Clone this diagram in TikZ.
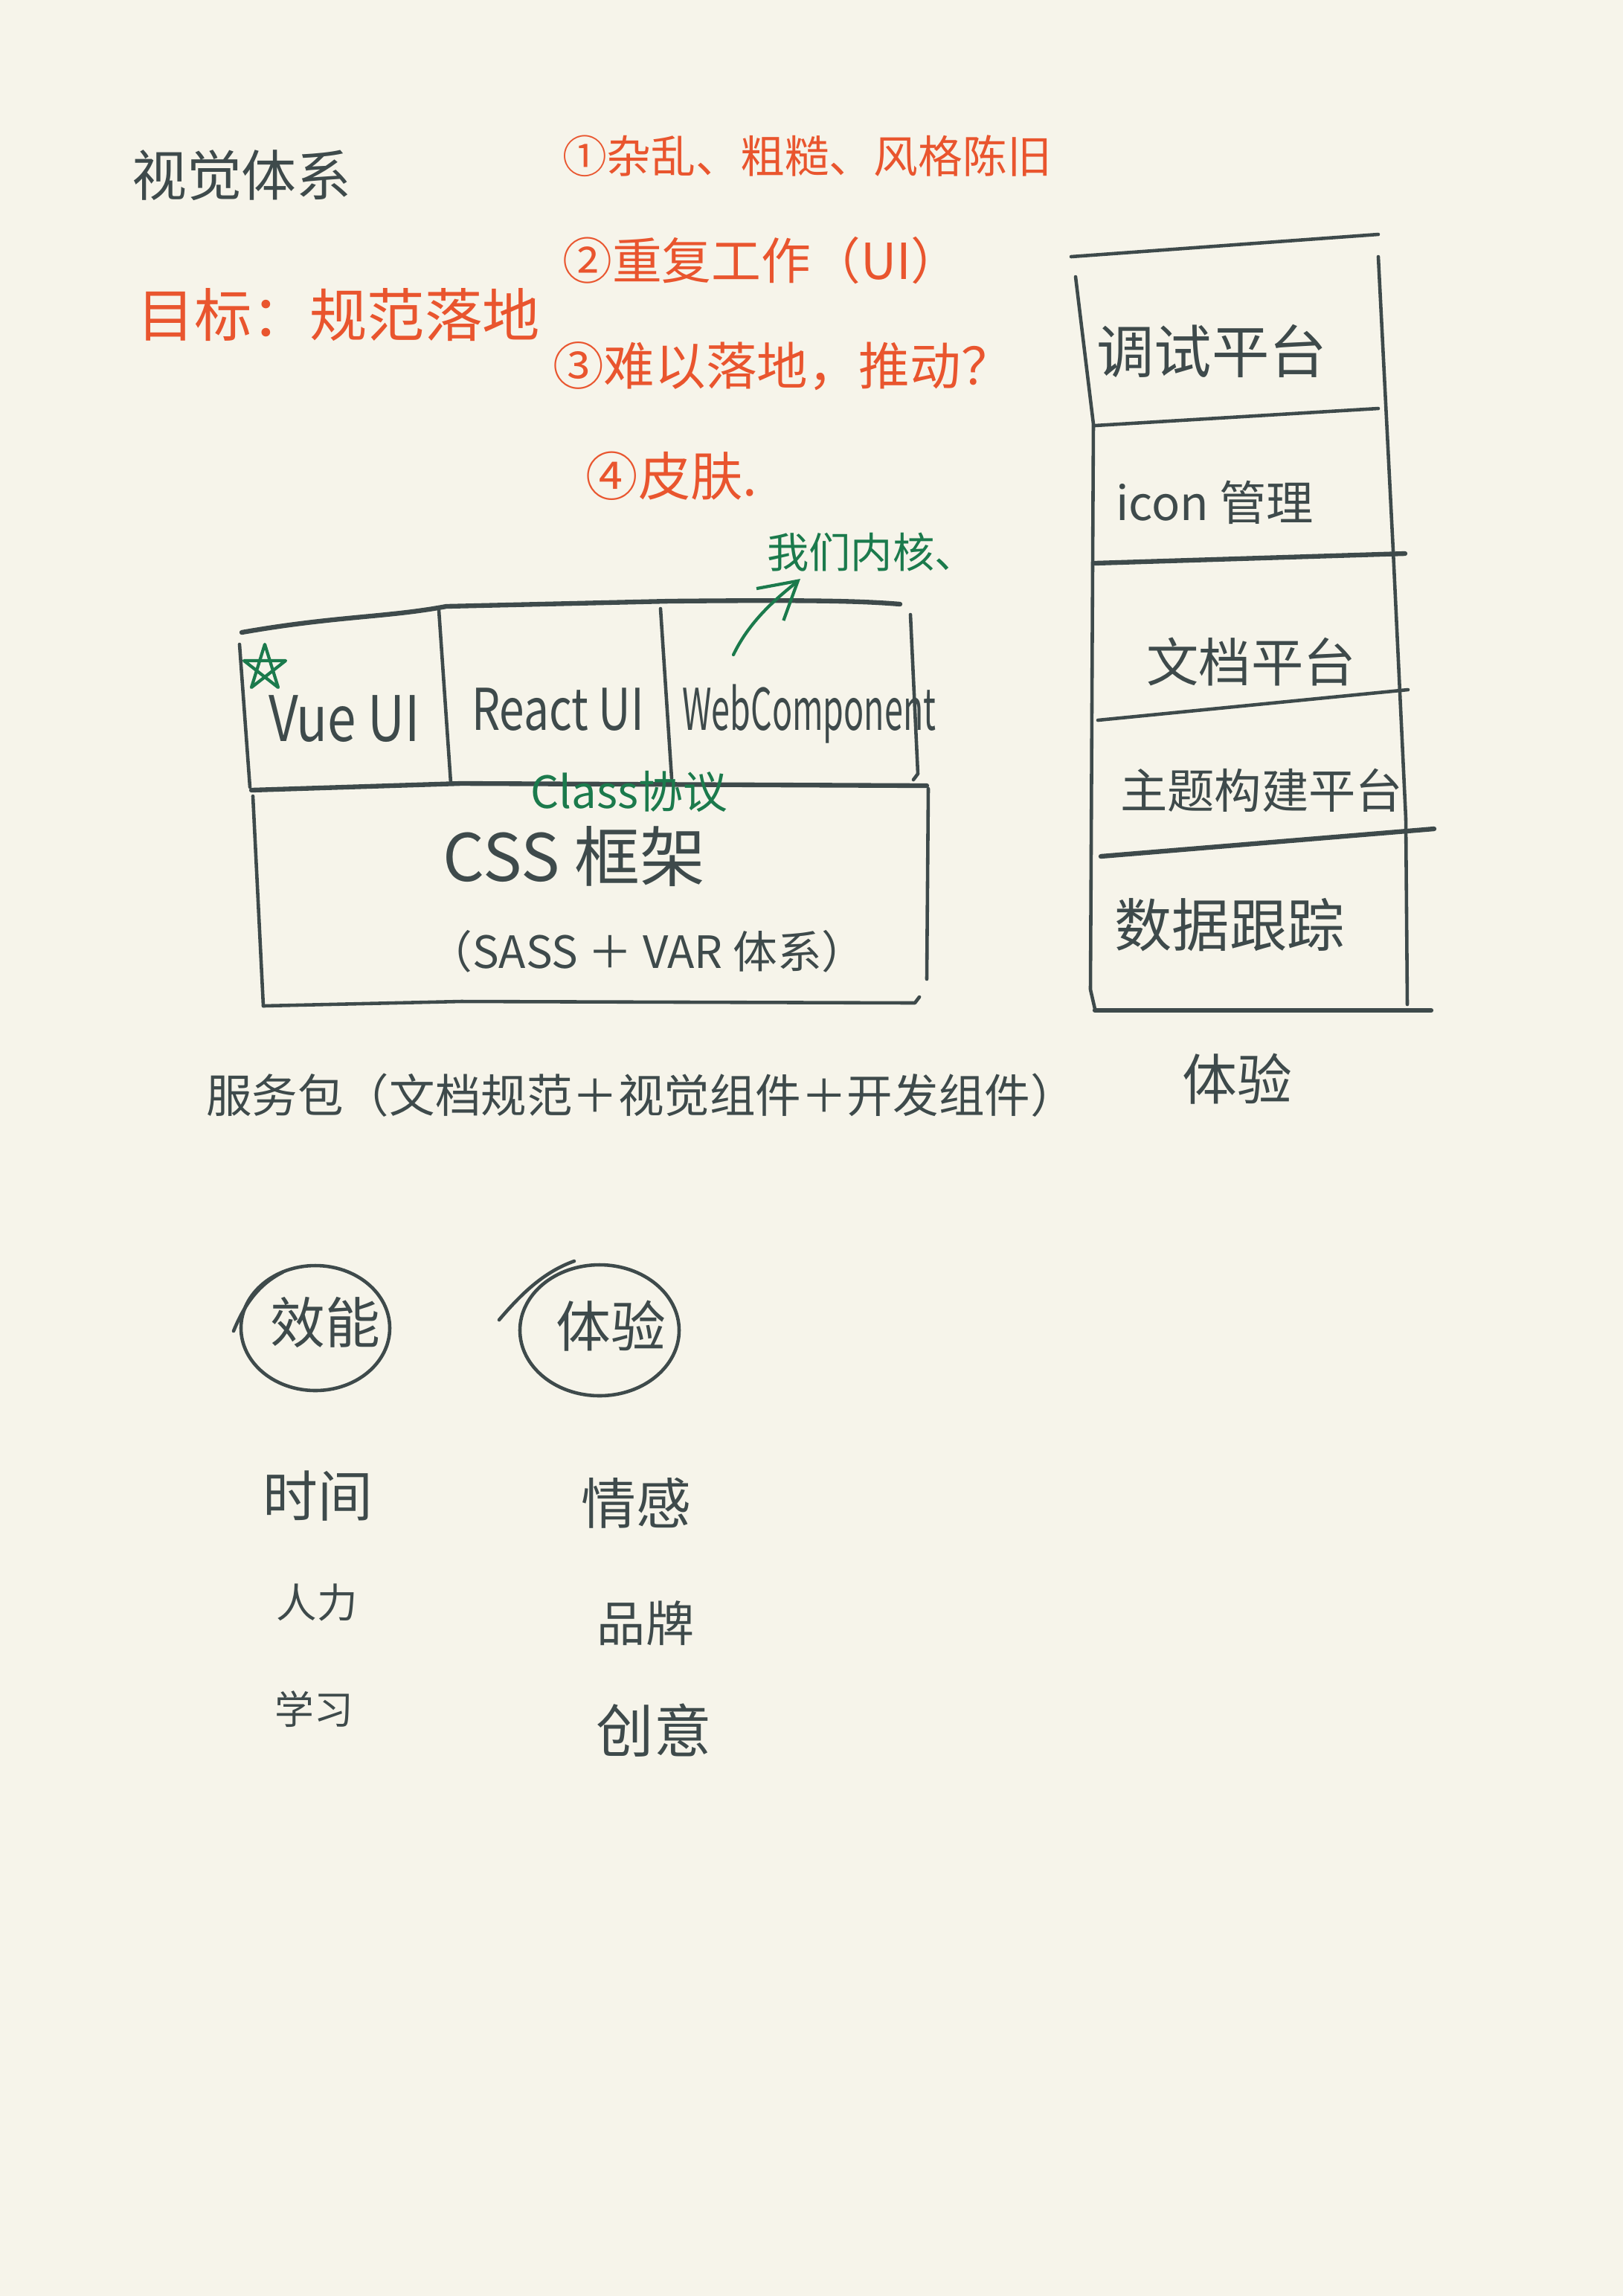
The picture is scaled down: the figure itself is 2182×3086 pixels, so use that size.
\documentclass[tikz,border=0pt]{standalone}
\usepackage{fontspec}
\setmainfont{Noto Sans CJK SC}
\usetikzlibrary{arrows.meta}
\definecolor{bgc}{HTML}{F6F4EA}
\definecolor{ink}{HTML}{3E4A4B}
\definecolor{orng}{HTML}{E9552E}
\definecolor{grn}{HTML}{1B7A4C}
\newcommand{\fs}[1]{\fontsize{#1pt}{#1pt}\selectfont}
\tikzset{
  txt/.style={inner sep=0pt, text=ink},
  otxt/.style={inner sep=0pt, text=orng},
  gtxt/.style={inner sep=0pt, text=grn},
  pen/.style={draw=ink, line width=1.3pt, line cap=round, line join=round},
  heavy/.style={draw=ink, line width=1.8pt, line cap=round, line join=round},
  gpen/.style={draw=grn, line width=1.2pt, line cap=round, line join=round},
}
\begin{document}
\begin{tikzpicture}[x=0.01cm,y=-0.01cm]
\fill[bgc] (0,0) rectangle (2182,3086);
\useasboundingbox (0,0) rectangle (2182,3086);

% title and goal
\node[txt, font=\fs{21}] (title) at (325,236) {视觉体系};
\node[otxt, font=\fs{22}] (goal) at (455,423) {目标：规范落地};

% problems
\node[otxt, font=\fs{17}] (p1) at (1085,210) {①杂乱、粗糙、风格陈旧};
\node[otxt, font=\fs{19}] (p2) at (1024,350) {②重复工作（UI）};
\node[otxt, font=\fs{19.5}] (p3) at (1052,492) {③难以落地，推动？};
\node[otxt, font=\fs{20}] (p4) at (903,640) {④皮肤.};

% left frame box
\draw[heavy] (325,850) .. controls (450,828) and (520,830) .. (600,815) -- (900,808) .. controls (1100,806) and (1160,808) .. (1210,812);
\draw[pen] (322,866) -- (336,1058);
\draw[pen] (1224,826) -- (1234,1040) -- (1228,1048);
\draw[pen] (590,820) -- (606,1052);
\draw[pen] (888,818) -- (903,1046);
\draw[heavy] (338,1062) -- (620,1053) -- (1246,1056);
\draw[pen] (340,1070) -- (354,1352);
\draw[pen] (1248,1060) -- (1246,1316);
\draw[pen] (354,1352) -- (620,1346) -- (1230,1348) -- (1236,1340);

% green star
\draw[gpen] (356,866) -- (374,924) -- (328,888) -- (384,888) -- (338,924) -- cycle;

\node[txt, font=\fs{24}, xscale=0.82] (vue) at (463,966) {Vue UI};
\node[txt, font=\fs{22}, xscale=0.78] (react) at (750,954) {React UI};
\node[txt, font=\fs{22}, xscale=0.58] (wc) at (1088,960) {WebComponent};
\node[gtxt, font=\fs{17}] (cls) at (846,1064) {Class协议};
\node[txt, font=\fs{25}] (css) at (772,1151) {CSS 框架};
\node[txt, font=\fs{17}] (sass) at (870,1279) {（SASS ＋ VAR 体系）};

% green note with arrow
\node[gtxt, font=\fs{16}] (core) at (1172,742) {我们内核、};
\coordinate (wcTail) at (986,880);
\coordinate (tip) at (1076,778);
\draw[gpen, -{Straight Barb[length=14pt,width=16pt]}] (wcTail) .. controls (1010,830) and (1050,800) .. (tip);

% service package
\node[txt, font=\fs{17.5}] (svc) at (862,1472) {服务包（文档规范＋视觉组件＋开发组件）};

% right column
\draw[pen] (1440,345) -- (1853,315);
\draw[pen] (1446,372) -- (1470,570) -- (1466,1330) -- (1472,1356);
\draw[pen] (1853,345) -- (1873,740) -- (1890,1100) -- (1892,1350);
\draw[pen] (1472,572) -- (1853,549);
\draw[heavy] (1472,757) -- (1889,744);
\draw[pen] (1476,968) -- (1893,927);
\draw[heavy] (1480,1151) -- (1928,1114);
\draw[heavy] (1472,1358) -- (1924,1358);

\node[txt, font=\fs{22}] (r1) at (1629,472) {调试平台};
\node[txt, font=\fs{18}] (r2) at (1633,675) {icon 管理};
\node[txt, font=\fs{20}] (r3) at (1682,889) {文档平台};
\node[txt, font=\fs{18}] (r4) at (1696,1062) {主题构建平台};
\node[txt, font=\fs{22}] (r5) at (1653,1243) {数据跟踪};
\node[txt, font=\fs{21}] (rexp) at (1663,1450) {体验};

% circles
\draw[pen] (424,1785) ellipse [x radius=100, y radius=84];
\draw[pen] (314,1789) .. controls (330,1750) and (350,1725) .. (380,1710);
\node[txt, font=\fs{21}] (eff) at (437,1777) {效能};
\draw[pen] (806,1788) ellipse [x radius=107, y radius=88];
\draw[pen] (671,1774) .. controls (700,1740) and (730,1710) .. (772,1695);
\node[txt, font=\fs{21}] (exp) at (821,1782) {体验};

\node[txt, font=\fs{21}] (t1) at (427,2011) {时间};
\node[txt, font=\fs{15.5}] (t2) at (426,2154) {人力};
\node[txt, font=\fs{15}] (t3) at (422,2297) {学习};
\node[txt, font=\fs{21}] (e1) at (855,2020) {情感};
\node[txt, font=\fs{18.5}] (e2) at (868,2182) {品牌};
\node[txt, font=\fs{22}] (e3) at (879,2326) {创意};
\end{tikzpicture}
\end{document}
